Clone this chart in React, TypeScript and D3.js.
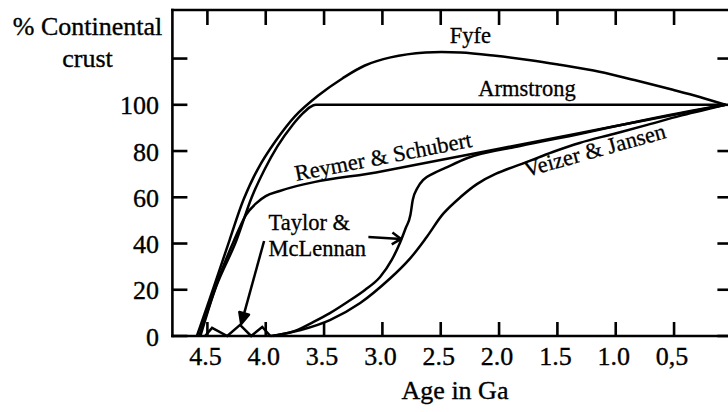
import React from "react";
import * as d3 from "d3";

const W = 728;
const H = 412;

// Axis ticks
const xTickValues = [4.5, 4.0, 3.5, 3.0, 2.5, 2.0, 1.5, 1.0, 0.5, 0];
const xTickLabels = ["4.5", "4.0", "3.5", "3.0", "2.5", "2.0", "1.5", "1.0", "0,5"];
const yTickValues = [0, 20, 40, 60, 80, 100, 120];
const yTickLabels = ["0", "20", "40", "60", "80", "100"];

// Series (age in Ga, % continental crust)
const fyfeAge = [4.59, 4.44, 4.31, 4.19, 4.07, 3.92, 3.75, 3.55, 3.34, 3.15, 2.93, 2.63, 2.33, 2.03, 1.73, 1.48, 1.14, 0.84, 0.51, 0.28, 0.06];
const fyfePct = [0, 22, 41.5, 59, 72, 84, 95, 104, 111.5, 117, 120.5, 122.6, 122.6, 121.2, 119.3, 117.3, 114.3, 110.7, 106.5, 103.4, 100];

const armstrongAge = [4.57, 4.42, 4.25, 4.12, 4.01, 3.9, 3.77, 3.68, 3.62, 3.57, 2.5, 1.5, 0.06];
const armstrongPct = [0, 22, 41.5, 60, 72, 82, 91.3, 96.4, 99, 100, 100, 100, 100];

const reymerAge = [4.56, 4.41, 4.27, 4.17, 4.08, 4.0, 3.88, 3.0, 2.0, 1.0, 0.06];
const reymerPct = [0, 24, 41.5, 52.3, 57.5, 60.5, 62.7, 71.3, 81, 90.8, 100];

const taylorZigAge = [4.52, 4.46, 4.33, 4.22, 4.125, 4.03, 3.96];
const taylorZigPct = [0, 3.5, 0, 4.8, 0, 3.9, 0];

const taylorAge = [3.96, 3.75, 3.59, 3.45, 3.3, 3.15, 3.02, 2.92, 2.85, 2.8, 2.76, 2.74, 2.7, 2.65, 2.57, 2.46, 2.27, 1.82, 1.31, 0.79, 0.36, 0.06];
const taylorPct = [0, 2.2, 6.1, 9.9, 14.7, 19.9, 25.5, 32.9, 40.2, 46.7, 52.3, 58.8, 64, 67.5, 70.1, 72.7, 77, 82.2, 87.4, 93, 97.3, 100];

const veizerAge = [3.94, 3.7, 3.45, 3.19, 2.93, 2.76, 2.62, 2.48, 2.33, 2.19, 2.03, 1.76, 1.54, 1.31, 1.02, 0.73, 0.45, 0.235, 0.06];
const veizerPct = [0, 2.6, 6.9, 14.3, 25.1, 33.7, 42.8, 52.8, 60.1, 65.7, 70.1, 75.3, 79.6, 83.5, 87.4, 91.3, 95.2, 97.8, 100];

const zip = (a: number[], b: number[]) => a.map((v, i) => [v, b[i]] as [number, number]);

const FONT = "'Liberation Serif', 'Times New Roman', serif";

export default function App() {
  const x = d3.scaleLinear().domain([4.8, 0]).range([172.4, 732.4]);
  const y = d3.scaleLinear().domain([0, 141]).range([336, 10]);

  const mono = d3
    .line<[number, number]>()
    .x((d) => x(d[0]))
    .y((d) => y(d[1]))
    .curve(d3.curveMonotoneX);
  const smooth = d3
    .line<[number, number]>()
    .x((d) => x(d[0]))
    .y((d) => y(d[1]))
    .curve(d3.curveCatmullRom.alpha(0.5));
  const straight = d3
    .line<[number, number]>()
    .x((d) => x(d[0]))
    .y((d) => y(d[1]));

  const left = x(4.8);
  const right = x(0);
  const top = y(141);
  const bottom = y(0);
  const tickLen = 15;

  // arrow 1 (filled head) from label to zigzag
  const a1s: [number, number] = [x(4.014), y(41.1)];
  const a1e: [number, number] = [x(4.21), y(5.2)];
  const a1dx = a1e[0] - a1s[0];
  const a1dy = a1e[1] - a1s[1];
  const a1l = Math.hypot(a1dx, a1dy);
  const ux = a1dx / a1l, uy = a1dy / a1l;
  const hl = 11, hw = 5;
  const bx = a1e[0] - ux * hl, by = a1e[1] - uy * hl;
  const head1 = `M${a1e[0]},${a1e[1]} L${bx - uy * hw},${by + ux * hw} L${bx + uy * hw},${by - ux * hw} Z`;

  // arrow 2 (open head) from label to curve
  const a2s: [number, number] = [x(3.12), y(42.8)];
  const a2e: [number, number] = [x(2.84), y(42.0)];
  const a2dx = a2e[0] - a2s[0];
  const a2dy = a2e[1] - a2s[1];
  const a2l = Math.hypot(a2dx, a2dy);
  const vx = a2dx / a2l, vy = a2dy / a2l;
  const hl2 = 9, hw2 = 6;
  const cx2 = a2e[0] - vx * hl2, cy2 = a2e[1] - vy * hl2;
  const head2 = `M${cx2 - vy * hw2},${cy2 + vx * hw2} L${a2e[0]},${a2e[1]} L${cx2 + vy * hw2},${cy2 - vx * hw2}`;

  const lbl = (age: number, pct: number) => [x(age), y(pct)];
  const [fyX, fyY] = lbl(2.245, 126.7);
  const [arX, arY] = lbl(1.76, 103.8);
  const [reX, reY] = lbl(3.738, 67.0);
  const [veX, veY] = lbl(1.767, 68.8);
  const [taX, taY] = lbl(3.976, 45.8);
  const [mcX, mcY] = lbl(3.976, 34.6);

  return (
    <div style={{ position: "absolute", left: 0, top: 0 }}>
      <svg width={W} height={H} style={{ display: "block", background: "#fff" }} fontFamily={FONT}>
        <rect x={0} y={0} width={W} height={H} fill="#fff" />
        {/* frame */}
        <g stroke="#000" strokeWidth={2.6} fill="none" strokeLinecap="square">
          <line x1={left} y1={top} x2={right} y2={top} />
          <line x1={left} y1={bottom} x2={right} y2={bottom} />
          <line x1={left} y1={top} x2={left} y2={bottom} />
          <line x1={right} y1={top} x2={right} y2={bottom} />
        </g>
        {/* ticks */}
        <g stroke="#000" strokeWidth={2.6}>
          {xTickValues.map((v) => (
            <g key={"xt" + v}>
              <line x1={x(v)} x2={x(v)} y1={bottom} y2={bottom - tickLen + 1} />
              <line x1={x(v)} x2={x(v)} y1={top} y2={top + tickLen} />
            </g>
          ))}
          {yTickValues.map((v) => (
            <g key={"yt" + v}>
              <line x1={left} x2={left + tickLen} y1={y(v)} y2={y(v)} />
              <line x1={right} x2={right - tickLen} y1={y(v)} y2={y(v)} />
            </g>
          ))}
        </g>
        {/* tick labels */}
        <g fontSize={26} fill="#000" stroke="#000" strokeWidth={0.35}>
          {xTickLabels.map((t, i) => (
            <text key={"xl" + t} x={x(xTickValues[i]) - 2} y={365} textAnchor="middle">
              {t}
            </text>
          ))}
          {yTickLabels.map((t, i) => (
            <text key={"yl" + t} x={159} y={y(yTickValues[i]) + 9.5} textAnchor="end">
              {t}
            </text>
          ))}
          <text x={455} y={399} textAnchor="middle">Age in Ga</text>
          <text x={87.5} y={35} textAnchor="middle">% Continental</text>
          <text x={87.5} y={67} textAnchor="middle">crust</text>
        </g>
        {/* curves */}
        <g fill="none" stroke="#000" strokeWidth={2.5} strokeLinejoin="round">
          <path d={smooth(zip(fyfeAge, fyfePct)) || ""} />
          <path d={mono(zip(armstrongAge, armstrongPct)) || ""} />
          <path d={mono(zip(reymerAge, reymerPct)) || ""} />
          <path d={mono(zip(taylorAge, taylorPct)) || ""} />
          <path d={smooth(zip(veizerAge, veizerPct)) || ""} />
          <path d={straight(zip(taylorZigAge, taylorZigPct)) || ""} strokeLinejoin="miter" />
          <line x1={a1s[0]} y1={a1s[1]} x2={bx} y2={by} />
          <path d={head1} fill="#000" />
          <line x1={a2s[0]} y1={a2s[1]} x2={a2e[0]} y2={a2e[1]} />
          <path d={head2} />
        </g>
        {/* curve labels */}
        <g fontSize={22.5} fill="#000" stroke="#000" strokeWidth={0.3}>
          <text x={fyX} y={fyY} textAnchor="middle">Fyfe</text>
          <text x={arX} y={arY} textAnchor="middle">Armstrong</text>
          <text x={reX} y={reY} transform={`rotate(-11 ${reX} ${reY})`}>Reymer &amp; Schubert</text>
          <text x={veX} y={veY} transform={`rotate(-15.5 ${veX} ${veY})`}>Veizer &amp; Jansen</text>
          <text x={taX} y={taY}>Taylor &amp;</text>
          <text x={mcX} y={mcY}>McLennan</text>
        </g>
      </svg>
    </div>
  );
}
